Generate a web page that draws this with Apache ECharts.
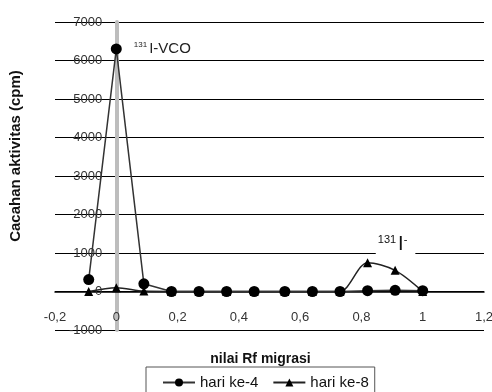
<!DOCTYPE html>
<html><head><meta charset="utf-8">
<script src="https://cdn.jsdelivr.net/npm/echarts@6/dist/echarts.min.js"></script>
<style>html,body{margin:0;padding:0;background:#fff}#c{width:492px;height:392px}</style>
</head><body><div id="c"></div>
<script>
const rfValues = [-0.09, 0, 0.09, 0.18, 0.27, 0.36, 0.45, 0.55, 0.64, 0.73, 0.82, 0.91, 1.0];
const day4Counts = [310, 6300, 200, 0, 0, 0, 0, 0, 0, 0, 20, 30, 20];
const day8Counts = [0, 100, 10, 0, 0, 0, 0, 0, 0, 0, 750, 550, 0];
const seriesNames = ['hari ke-4', 'hari ke-8'];
const xTitle = 'nilai Rf migrasi';
const yTitle = 'Cacahan aktivitas (cpm)';
const xMin = -0.2, xMax = 1.2, yMin = -1000, yMax = 7000;

const FONT = 'Liberation Sans, Arial, sans-serif';
const W = 492, H = 392;
const G = {left: 55, right: 8, top: 22, bottom: 62};
const gw = W - G.left - G.right, gh = H - G.top - G.bottom;
// shift axes so they sit at the other axis' zero, labels included
const xAxisOffset = -gh * (0 - yMin) / (yMax - yMin);
const yAxisOffset = -gw * (0 - xMin) / (xMax - xMin);

const chart = echarts.init(document.getElementById('c'));
const pair = (xs, ys) => xs.map((x, i) => [x, ys[i]]);

const d4 = pair(rfValues, day4Counts);
d4[1] = {value: d4[1], label: {show: true, position: 'right', distance: 12, offset: [0, 0],
  formatter: '{s|131}{b|I-VCO}',
  rich: {s: {fontSize: 8, fontFamily: FONT, color: '#222', verticalAlign: 'top', padding: [0,2,0,0], lineHeight: 16},
         b: {fontSize: 15, fontFamily: FONT, color: '#222', lineHeight: 16}}}};
const d8 = pair(rfValues, day8Counts);
d8[10] = {value: d8[10], label: {show: true, position: 'top', distance: 1, offset: [28, 0],
  backgroundColor: '#fff', padding: [1, 8, 3, 2],
  formatter: '{s|131}{b|I}{t|-}',
  rich: {s: {fontSize: 11, fontFamily: FONT, color: '#111', verticalAlign: 'top', lineHeight: 20, padding: [0, 2, 0, 0]},
         t: {fontSize: 11, fontFamily: FONT, color: '#111', verticalAlign: 'top', lineHeight: 20},
         b: {fontSize: 20, fontFamily: FONT, color: '#111', lineHeight: 20}}}};

chart.setOption({
  animation: false,
  grid: Object.assign({containLabel: false, outerBoundsMode: 'none'}, G),
  xAxis: {
    type: 'value', min: xMin, max: xMax, interval: 0.2, offset: xAxisOffset,
    name: xTitle, nameLocation: 'middle', nameGap: 61,
    nameTextStyle: {fontFamily: FONT, fontWeight: 'bold', fontSize: 14, color: '#111', padding: [0, 18, 0, 0]},
    axisLine: {onZero: false, lineStyle: {color: '#000', width: 1.5}},
    axisTick: {show: false},
    axisLabel: {margin: 19, fontFamily: FONT, fontSize: 13, color: '#333',
      formatter: v => (Math.round(v * 10) / 10).toString().replace('.', ',')},
    splitLine: {show: false}
  },
  yAxis: {
    type: 'value', min: yMin, max: yMax, interval: 1000, offset: yAxisOffset,
    name: yTitle, nameLocation: 'middle', nameGap: 93,
    nameTextStyle: {fontFamily: FONT, fontWeight: 'bold', fontSize: 15, color: '#111', padding: [0, 0, 0, 40]},
    axisLine: {show: true, onZero: false, lineStyle: {color: '#bdbdbd', width: 4}},
    axisTick: {show: false},
    axisLabel: {margin: 14, fontFamily: FONT, fontSize: 13, color: '#333', formatter: v => String(v)},
    splitLine: {show: true, lineStyle: {color: '#000', width: 1}}
  },
  legend: {
    top: 367, left: 146, itemGap: 14, itemWidth: 32, itemHeight: 10,
    borderColor: '#555', borderWidth: 1, padding: [8, 6, 14, 16],
    textStyle: {fontFamily: FONT, fontSize: 15, color: '#111'},
    data: seriesNames
  },
  series: [
    {name: seriesNames[0], type: 'line', data: d4, symbol: 'circle', symbolSize: 11,
     itemStyle: {color: '#000'}, lineStyle: {color: '#333', width: 1.5}, z: 3},
    {name: seriesNames[1], type: 'line', data: d8, symbol: 'triangle', symbolSize: 9, smooth: 0.3,
     itemStyle: {color: '#000'}, lineStyle: {color: '#222', width: 1.5}, z: 2}
  ]
});
</script></body></html>
